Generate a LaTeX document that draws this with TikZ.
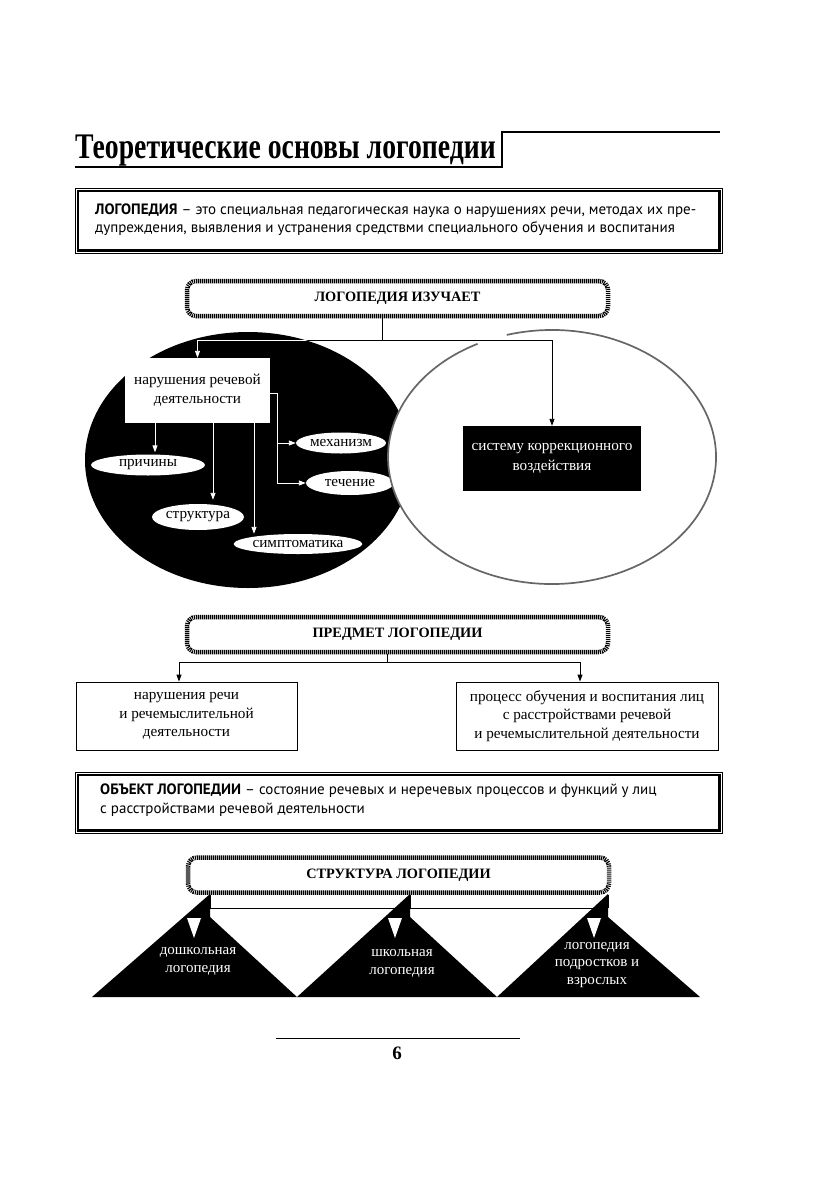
\documentclass[tikz,border=0pt]{standalone}
\usepackage{fontspec}
\setmainfont{Liberation Serif}
\newfontfamily\sansf{PT Sans}
\newfontfamily\titlef{Liberation Serif}[FakeStretch=0.77]
\usetikzlibrary{shapes.geometric,arrows.meta}
\tikzset{
  hbox/.style={draw, line width=4.5pt, dash pattern=on 1.1pt off 0.9pt, rounded corners=9pt,
    minimum width=421pt, minimum height=35pt, inner sep=0pt,
    font=\bfseries\fontsize{14.3}{16}\selectfont},
  dboxo/.style={draw, line width=0.8pt, minimum width=647pt, inner sep=0pt},
  lbox/.style={draw, line width=0.9pt, align=center, inner sep=0pt,
    font=\fontsize{15.2}{18.5}\selectfont},
  well/.style={ellipse, fill=white, inner sep=0pt, font=\fontsize{15.2}{16}\selectfont},
  wtext/.style={text=white, align=center, inner sep=0pt, font=\fontsize{15}{17.8}\selectfont},
  stext/.style={align=left, anchor=west, inner sep=0pt, font=\sansf\fontsize{15}{18.5}\selectfont},
  barr/.style={draw=black, line width=0.9pt, -{Triangle[width=5pt,length=7pt]}},
  bline/.style={draw=black, line width=0.9pt},
  warr/.style={draw=white, line width=0.9pt, -{Triangle[width=5pt,length=7pt]}},
  grayline/.style={draw=black!60, line width=1.7pt},
}
\begin{document}
\begin{tikzpicture}[x=1pt,y=-1pt]
\useasboundingbox (0,0) rectangle (840,1191);
\fill[white] (0,0) rectangle (840,1191);

% title
\node[anchor=base west, inner sep=0pt, font=\titlef\bfseries\fontsize{36}{40}\selectfont] (title) at (75,158) {Теоретические основы логопедии};
\coordinate (tl1) at (75,167);
\coordinate (tl2) at (502,167);
\coordinate (tl3) at (502,132);
\coordinate (tl4) at (720,132);
\draw[line width=1.2pt] (tl1) -- (tl2) -- (tl3) -- (tl4);

% definition box
\node[dboxo, minimum height=65pt] (defb) at (398.5,220.5) {};
\draw[line width=2.2pt] ([shift={(3,3)}]defb.north west) rectangle ([shift={(-3,-3)}]defb.south east);
\node[stext] (deft) at (95,219.5) {\textbf{ЛОГОПЕДИЯ} – это специальная педагогическая наука о нарушениях речи, методах их пре-\\дупреждения, выявления и устранения средствми специального обучения и воспитания};

% LOGOPEDIA IZUCHAET
\node[hbox] (izuch) at (397.5,298.5) {ЛОГОПЕДИЯ ИЗУЧАЕТ};

% black ellipse
\node[ellipse, fill=black, minimum width=326pt, minimum height=256pt, inner sep=0pt] (bell) at (248,460) {};

\node[fill=white, minimum width=145pt, minimum height=65pt, align=center, inner sep=0pt, font=\fontsize{15.2}{19.5}\selectfont] (nar) at (197.5,390.5) {нарушения речевой\\деятельности};

\node[well, minimum width=114pt, minimum height=21pt] (prich) at (148,465) {причины};
\node[well, minimum width=92pt, minimum height=26pt] (strukt) at (198,517) {структура};
\node[well, minimum width=116pt, minimum height=20pt] (simpt) at (298,544) {симптоматика};
\node[well, minimum width=90pt, minimum height=21pt] (mech) at (341,443) {механизм};
\node[well, minimum width=88pt, minimum height=24pt] (tech) at (350,483) {течение};

\draw[warr, shorten >=2pt] ([xshift=7pt]prich.north |- nar.south) -- ([xshift=7pt]prich.north);
\draw[warr, shorten >=4pt] ([xshift=15pt]strukt.north |- nar.south) -- ([xshift=15pt]strukt.north);
\draw[warr] ([xshift=-44pt]simpt.north |- nar.south) -- ([xshift=-44pt]simpt.north);
\coordinate (br) at ([xshift=7pt,yshift=-2.5pt]nar.east);
\draw[warr] ([yshift=-2.5pt]nar.east) -- (br) |- (tech.west);
\draw[warr] (br) |- (mech.west);

% white ellipse
\node[ellipse, fill=white, minimum width=328pt, minimum height=254pt, inner sep=0pt] (wellp) at (552,457) {};
\draw[grayline] ([shift={(-106:164 and 127)}]552,457) arc[start angle=-106, end angle=243, x radius=164, y radius=127];

\node[fill=black, text=white, minimum width=178pt, minimum height=65pt, align=center, inner sep=0pt, font=\fontsize{15.2}{19.5}\selectfont] (sys) at (552,458.5) {систему коррекционного\\воздействия};

% connectors from IZUCHAET
\coordinate (j1) at (382,340);
\draw[bline] (izuch.south -| j1) -- (j1);
\draw[barr] (j1) -| (nar.north);
\draw[barr] (j1) -| (sys.north);
\begin{scope}
  \clip (248,460) ellipse [x radius=163, y radius=128];
  \draw[warr] (j1) -| (nar.north);
\end{scope}

% PREDMET
\node[hbox] (pred) at (397.5,634.5) {ПРЕДМЕТ ЛОГОПЕДИИ};
\coordinate (j2) at (387,662);
\node[lbox, minimum width=221pt, minimum height=68pt] (pl) at (186.5,716) {нарушения речи\\и речемыслительной\\деятельности};
\node[lbox, minimum width=262pt, minimum height=68pt] (pr) at (587,716) {процесс обучения и воспитания лиц\\с расстройствами речевой\\и речемыслительной деятельности};
\draw[bline] (pred.south -| j2) -- (j2);
\draw[barr] (j2) -| ([xshift=-7.5pt]pl.north);
\draw[barr] (j2) -| ([xshift=-7pt]pr.north);

% OBJECT box
\node[dboxo, minimum height=61pt] (objb) at (398.5,802.5) {};
\draw[line width=2.2pt] ([shift={(3,3)}]objb.north west) rectangle ([shift={(-3,-3)}]objb.south east);
\node[stext] (objt) at (100,800) {\textbf{ОБЪЕКТ ЛОГОПЕДИИ} – состояние речевых и неречевых процессов и функций у лиц\\с расстройствами речевой деятельности};

% STRUKTURA
\node[hbox] (struk) at (398.5,875) {СТРУКТУРА ЛОГОПЕДИИ};
\fill (92,997) -- (210,894) -- (210,917) -- (297,997) -- cycle;
\fill (297,997) -- (410,894) -- (410,917) -- (497,997) -- cycle;
\fill (497,997) -- (608,894) -- (608,917) -- (700,997) -- cycle;
\coordinate (t1) at (210,908);
\coordinate (t2) at (410,908);
\coordinate (t3) at (608,908);
\draw[bline] (struk.south -| t1) -- (t1) -- (t3);
\draw[bline] (struk.south -| t2) -- (t2);
\draw[bline] (struk.south -| t3) -- (t3);
\fill[white] (187,918) -- (201,918) -- (194,938) -- cycle;
\fill[white] (388,918) -- (402,918) -- (395,938) -- cycle;
\fill[white] (587,918) -- (601,918) -- (594,938) -- cycle;
\node[wtext] (tx1) at (198,961.5) {дошкольная\\логопедия};
\node[wtext] (tx2) at (402,963.5) {школьная\\логопедия};
\node[wtext] (tx3) at (597,965) {логопедия\\подростков и\\взрослых};

% page number
\coordinate (pn1) at (276,1038);
\coordinate (pn2) at (520,1038);
\draw[line width=0.9pt] (pn1) -- (pn2);
\node[inner sep=0pt, font=\bfseries\fontsize{19}{20}\selectfont] (pnum) at (397,1053) {6};
\end{tikzpicture}
\end{document}
